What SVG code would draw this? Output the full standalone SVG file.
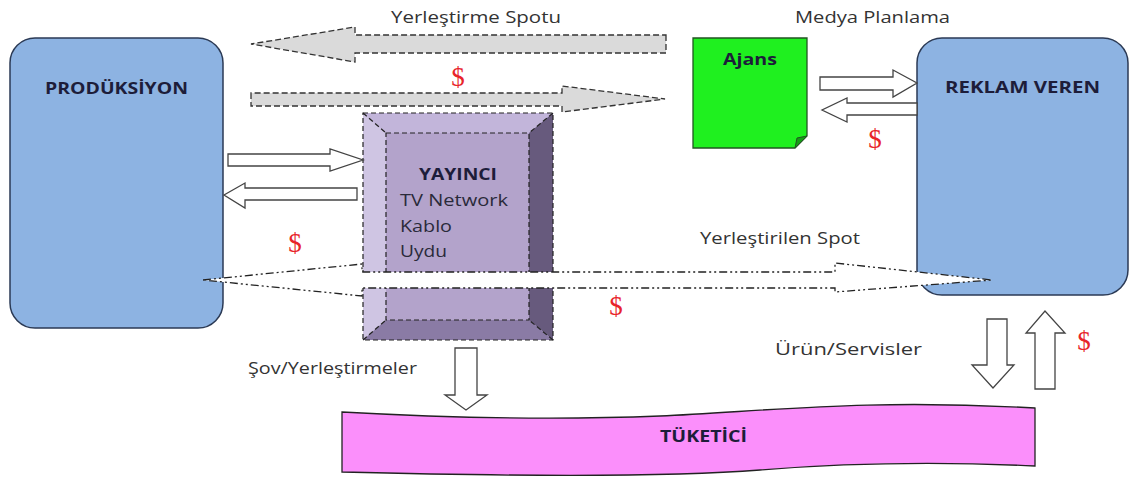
<svg xmlns="http://www.w3.org/2000/svg" width="1130" height="481" viewBox="0 0 1130 481">
<style>
.lbl{font-family:"Open Sans","Liberation Sans",sans-serif;font-size:16px;fill:#333;}
.inner{font-family:"Open Sans","Liberation Sans",sans-serif;font-size:17px;fill:#2a2a3a;}
.bold{font-family:"Open Sans","Liberation Sans",sans-serif;font-size:16px;font-weight:bold;fill:#1d1d3a;}
.usd{font-family:"Liberation Serif",serif;font-size:27px;fill:#e8242a;}
.blue{fill:#8db3e2;stroke:#2b3a55;stroke-width:1.5;}
.hollow{fill:#fff;stroke:#444;stroke-width:1.3;}
.gray{fill:#dadada;stroke:#333;stroke-width:1.3;stroke-dasharray:6,3;}
.dd{fill:#fff;stroke:#222;stroke-width:1.3;stroke-dasharray:8,3,2,3,2,3;}
.dash{stroke:#222;stroke-width:1.2;stroke-dasharray:5,3;}
</style>
<g id="produksiyon">
<rect class="blue" x="10" y="38" width="213" height="290" rx="25"/>
<text class="bold" x="45" y="94" textLength="143" lengthAdjust="spacingAndGlyphs">PRODÜKSİYON</text>
</g>
<g id="reklam-veren">
<rect class="blue" x="917" y="38" width="211" height="257" rx="25"/>
<text class="bold" x="945" y="93" textLength="155" lengthAdjust="spacingAndGlyphs">REKLAM VEREN</text>
</g>
<g id="ajans">
<path d="M693,38 H807 V136 L795,148 H693 Z" fill="#1ff01f" stroke="#225522" stroke-width="1.3"/>
<path d="M795,148 L797,138 L807,136 Z" fill="#169e16" stroke="#225522" stroke-width="1"/>
<text class="bold" x="723" y="65" textLength="54" lengthAdjust="spacingAndGlyphs">Ajans</text>
</g>
<g id="yayinci">
<rect x="363" y="113" width="190" height="227" fill="#b3a3cb"/>
<polygon points="363,113 553,113 529,133 386,133" fill="#c2b5da"/>
<polygon points="363,113 386,133 386,320 363,340" fill="#cfc5e3"/>
<polygon points="553,113 529,133 529,320 553,340" fill="#675a7d"/>
<polygon points="363,340 386,320 529,320 553,340" fill="#8a7ba5"/>
<rect class="dash" x="363" y="113" width="190" height="227" fill="none"/>
<rect class="dash" x="386" y="133" width="143" height="187" fill="none"/>
<g class="dash" fill="none"><line x1="363" y1="113" x2="386" y2="133"/><line x1="553" y1="113" x2="529" y2="133"/><line x1="363" y1="340" x2="386" y2="320"/><line x1="553" y1="340" x2="529" y2="320"/></g>
<text class="bold" x="419" y="180" textLength="78" lengthAdjust="spacingAndGlyphs">YAYINCI</text>
<text class="inner" x="400" y="206" textLength="108" lengthAdjust="spacingAndGlyphs">TV Network</text>
<text class="inner" x="400" y="232" textLength="52" lengthAdjust="spacingAndGlyphs">Kablo</text>
<text class="inner" x="400" y="257" textLength="47" lengthAdjust="spacingAndGlyphs">Uydu</text>
</g>
<g id="tuketici">
<path d="M342,412 C450,418 560,420 660,416 C760,412 860,398 1035,408 L1035,466 C950,462 860,462 760,470 C660,478 500,476 342,472 Z" fill="#fb8ffb" stroke="#222" stroke-width="1.3"/>
<text class="bold" x="660" y="442" textLength="87" lengthAdjust="spacingAndGlyphs">TÜKETİCİ</text>
</g>
<g id="connectors">
<polygon class="gray" points="666,35 666,53 355,53 355,62 251,44 355,27 355,35"/>
<polygon class="gray" points="251,93 251,106 562,106 562,112 665,99 562,86 562,93"/>
<polygon class="hollow" points="228,154 330,154 330,149 363,160 330,171 330,166 228,166"/>
<polygon class="hollow" points="357,188 245,188 245,183 224,195 245,208 245,200 357,200"/>
<polygon class="hollow" points="820,77 893,77 893,70 917,83 893,97 893,90 820,90"/>
<polygon class="hollow" points="917,103 847,103 847,98 822,110 847,122 847,115 917,115"/>
<polygon class="dd" points="203,280 362,264 362,272 835,272 835,263 992,280 835,292 835,288 362,288 362,296"/>
<polygon class="hollow" points="455,348 477,348 477,395 487,395 466,410 445,395 455,395"/>
<polygon class="hollow" points="987,319 1007,319 1007,365 1014,365 993,388 972,365 987,365"/>
<polygon class="hollow" points="1035,389 1055,389 1055,333 1065,333 1045,311 1026,333 1035,333"/>
</g>
<g id="labels">
<text class="lbl" x="391" y="23" textLength="170" lengthAdjust="spacingAndGlyphs">Yerleştirme Spotu</text>
<text class="lbl" x="795" y="23" textLength="155" lengthAdjust="spacingAndGlyphs">Medya Planlama</text>
<text class="lbl" x="700" y="244" textLength="160" lengthAdjust="spacingAndGlyphs">Yerleştirilen Spot</text>
<text class="lbl" x="248" y="374" textLength="169" lengthAdjust="spacingAndGlyphs">Şov/Yerleştirmeler</text>
<text class="lbl" x="775" y="355" textLength="147" lengthAdjust="spacingAndGlyphs">Ürün/Servisler</text>
<text class="usd" x="458" y="86" text-anchor="middle">$</text>
<text class="usd" x="875" y="148" text-anchor="middle">$</text>
<text class="usd" x="295" y="252" text-anchor="middle">$</text>
<text class="usd" x="616" y="315" text-anchor="middle">$</text>
<text class="usd" x="1084" y="350" text-anchor="middle">$</text>
</g>
</svg>
